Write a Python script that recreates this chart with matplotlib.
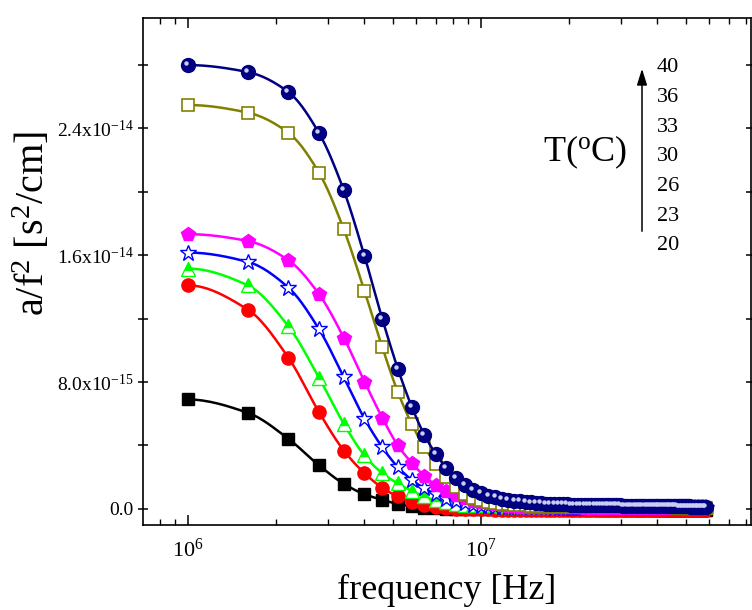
import numpy as np
import matplotlib.pyplot as plt
from matplotlib.ticker import FixedLocator, FixedFormatter, LogLocator, NullFormatter
from matplotlib.transforms import offset_copy

plt.rcParams['font.family'] = ['Liberation Serif', 'DejaVu Serif']
plt.rcParams['mathtext.fontset'] = 'custom'
plt.rcParams['mathtext.rm'] = 'Liberation Serif'
plt.rcParams['mathtext.it'] = 'Liberation Serif:italic'
plt.rcParams['mathtext.default'] = 'regular'

# frequency sweep, 1.0 MHz to 58.6 MHz in 0.6 MHz steps (97 points)
freq = np.round(np.arange(1.0, 58.7, 0.6), 1) * 1e6

temps = ["20", "23", "26", "30", "33", "36", "40"]

# a/f^2 in units of 1e-15 s^2/cm
t20 = [6.9, 6.06, 4.42, 2.74, 1.58, 0.92, 0.57, 0.3, 0.16, 0.08,
       0.04, 0.02, 0.01, 0.0, 0.0, -0.01, -0.01, -0.01, -0.02, -0.02,
       -0.02, -0.02, -0.03, -0.03] + \
      [-0.03, -0.03, -0.03, -0.03, -0.03, -0.03, -0.03, -0.03, -0.03, -0.03,
       -0.03, -0.03, -0.03, -0.03, -0.03, -0.03, -0.03, -0.03, -0.03, -0.03,
       -0.04, -0.04, -0.04, -0.04, -0.04, -0.04, -0.04, -0.04, -0.04, -0.04,
       -0.04, -0.04, -0.04, -0.04, -0.04, -0.04, -0.04, -0.04, -0.04, -0.04,
       -0.04, -0.04, -0.04, -0.04, -0.04, -0.05, -0.05, -0.05, -0.05, -0.05,
       -0.05, -0.05, -0.05, -0.05, -0.05, -0.05, -0.05, -0.05, -0.05, -0.05,
       -0.05, -0.05, -0.05, -0.05, -0.05, -0.05, -0.05, -0.05, -0.05, -0.05,
       -0.05, -0.05, -0.05]

t23 = [14.1, 12.57, 9.54, 6.1, 3.68, 2.25, 1.33, 0.78, 0.45, 0.25,
       0.13, 0.06, 0.02, 0.0, -0.02, -0.03, -0.04, -0.05, -0.05, -0.06,
       -0.06, -0.06, -0.07, -0.07] + \
      [-0.07, -0.07, -0.07, -0.07, -0.08, -0.08, -0.08, -0.08, -0.08, -0.08,
       -0.08, -0.08, -0.08, -0.08, -0.08, -0.08, -0.09, -0.09, -0.09, -0.09,
       -0.09, -0.09, -0.09, -0.09, -0.09, -0.09, -0.09, -0.09, -0.09, -0.09,
       -0.09, -0.09, -0.09, -0.09, -0.09, -0.09, -0.09, -0.09, -0.09, -0.09,
       -0.10, -0.10, -0.10, -0.10, -0.10, -0.10, -0.10, -0.10, -0.10, -0.10,
       -0.10, -0.10, -0.10, -0.10, -0.10, -0.10, -0.10, -0.10, -0.10, -0.10,
       -0.10, -0.10, -0.10, -0.10, -0.10, -0.10, -0.10, -0.10, -0.10, -0.10,
       -0.10, -0.10, -0.10]

t26 = [15.16, 14.1, 11.52, 8.27, 5.37, 3.37, 2.25, 1.6, 1.13, 0.78,
       0.54, 0.40, 0.32, 0.27, 0.24, 0.23, 0.22, 0.22, 0.21, 0.21,
       0.21, 0.21, 0.21, 0.21] + \
      [0.21, 0.21, 0.21, 0.21, 0.21, 0.21, 0.20, 0.20, 0.20, 0.20,
       0.20, 0.20, 0.20, 0.20, 0.20, 0.20, 0.20, 0.20, 0.20, 0.20,
       0.20, 0.20, 0.20, 0.20, 0.20, 0.20, 0.20, 0.20, 0.20, 0.20,
       0.20, 0.20, 0.20, 0.20, 0.20, 0.20, 0.20, 0.20, 0.20, 0.20,
       0.20, 0.20, 0.20, 0.20, 0.20, 0.20, 0.20, 0.20, 0.20, 0.20,
       0.19, 0.19, 0.19, 0.19, 0.19, 0.19, 0.19, 0.19, 0.19, 0.19,
       0.19, 0.19, 0.19, 0.19, 0.19, 0.19, 0.19, 0.19, 0.19, 0.19,
       0.19, 0.19, 0.19]

t30 = [16.17, 15.58, 13.96, 11.33, 8.31, 5.69, 3.89, 2.63, 1.83, 1.3,
       0.92, 0.65, 0.47, 0.35, 0.27, 0.21, 0.17, 0.14, 0.12, 0.11,
       0.10, 0.10, 0.09, 0.09] + \
      [0.09, 0.09, 0.09, 0.09, 0.08, 0.08, 0.08, 0.08, 0.08, 0.08,
       0.08, 0.08, 0.08, 0.07, 0.07, 0.07, 0.07, 0.07, 0.07, 0.07,
       0.07, 0.07, 0.07, 0.07, 0.07, 0.07, 0.07, 0.06, 0.06, 0.06,
       0.06, 0.06, 0.06, 0.06, 0.06, 0.06, 0.06, 0.06, 0.06, 0.06,
       0.06, 0.06, 0.06, 0.06, 0.06, 0.06, 0.06, 0.06, 0.06, 0.06,
       0.06, 0.06, 0.06, 0.06, 0.06, 0.06, 0.06, 0.06, 0.06, 0.06,
       0.06, 0.06, 0.06, 0.06, 0.06, 0.06, 0.06, 0.06, 0.06, 0.06,
       0.06, 0.06, 0.06]

t33 = [17.33, 16.9, 15.69, 13.54, 10.8, 8.03, 5.75, 4.0, 2.9, 2.08,
       1.5, 1.13, 0.85, 0.66, 0.52, 0.42, 0.34, 0.28, 0.23, 0.19,
       0.16, 0.14, 0.12, 0.11] + \
      [0.10, 0.10, 0.10, 0.10, 0.10, 0.09, 0.09, 0.09, 0.09, 0.09,
       0.09, 0.09, 0.08, 0.08, 0.08, 0.08, 0.08, 0.08, 0.08, 0.08,
       0.07, 0.07, 0.07, 0.07, 0.07, 0.07, 0.07, 0.07, 0.07, 0.07,
       0.06, 0.06, 0.06, 0.06, 0.06, 0.06, 0.06, 0.06, 0.06, 0.06,
       0.06, 0.06, 0.06, 0.06, 0.06, 0.05, 0.05, 0.05, 0.05, 0.05,
       0.05, 0.05, 0.05, 0.05, 0.05, 0.05, 0.05, 0.05, 0.05, 0.05,
       0.05, 0.05, 0.05, 0.05, 0.05, 0.05, 0.05, 0.05, 0.05, 0.05,
       0.05, 0.05, 0.05]

t36 = [25.48, 25.0, 23.73, 21.2, 17.64, 13.75, 10.2, 7.37, 5.35, 3.9,
       2.86, 2.0, 1.4, 0.95, 0.7, 0.55, 0.45, 0.38, 0.33, 0.29,
       0.26, 0.24, 0.22, 0.2] + \
      [0.19, 0.19, 0.18, 0.18, 0.18, 0.17, 0.17, 0.17, 0.16, 0.16,
       0.16, 0.16, 0.15, 0.15, 0.15, 0.15, 0.14, 0.14, 0.14, 0.14,
       0.13, 0.13, 0.13, 0.13, 0.13, 0.12, 0.12, 0.12, 0.12, 0.12,
       0.11, 0.11, 0.11, 0.11, 0.11, 0.11, 0.10, 0.10, 0.10, 0.10,
       0.10, 0.10, 0.10, 0.09, 0.09, 0.09, 0.09, 0.09, 0.09, 0.09,
       0.09, 0.09, 0.08, 0.08, 0.08, 0.08, 0.08, 0.08, 0.08, 0.08,
       0.08, 0.08, 0.08, 0.08, 0.08, 0.08, 0.08, 0.08, 0.08, 0.08,
       0.08, 0.08, 0.08]

t40 = [28.0, 27.56, 26.3, 23.7, 20.1, 15.96, 12.0, 8.84, 6.44, 4.68,
       3.47, 2.6, 1.95, 1.5, 1.2, 0.98, 0.84, 0.73, 0.65, 0.58,
       0.52, 0.47, 0.43, 0.40, 0.37, 0.35, 0.33, 0.32, 0.31, 0.30,
       0.29, 0.28, 0.27] + \
      [0.27, 0.26, 0.26, 0.26, 0.25, 0.25, 0.25, 0.24, 0.24, 0.24,
       0.23, 0.23, 0.23, 0.22, 0.22, 0.22, 0.21, 0.21, 0.21, 0.21,
       0.20, 0.20, 0.20, 0.20, 0.19, 0.19, 0.19, 0.19, 0.18, 0.18,
       0.18, 0.18, 0.18, 0.17, 0.17, 0.17, 0.17, 0.17, 0.16, 0.16,
       0.16, 0.16, 0.16, 0.16, 0.15, 0.15, 0.15, 0.15, 0.15, 0.15,
       0.15, 0.15, 0.14, 0.14, 0.14, 0.14, 0.14, 0.14, 0.14, 0.14,
       0.14, 0.14, 0.14, 0.14]

series = [t20, t23, t26, t30, t33, t36, t40]


def smooth_curve(x, y, n=16):
    # monotone cubic (pchip) through the points, in log10(f)
    lx = np.log10(x)
    y = np.asarray(y, dtype=float)
    h = np.diff(lx)
    d = np.diff(y) / h
    m = np.zeros_like(y)
    for k in range(1, len(y) - 1):
        if d[k - 1] * d[k] > 0:
            w1 = 2 * h[k] + h[k - 1]
            w2 = h[k] + 2 * h[k - 1]
            m[k] = (w1 + w2) / (w1 / d[k - 1] + w2 / d[k])
    m0 = ((2 * h[0] + h[1]) * d[0] - h[0] * d[1]) / (h[0] + h[1])
    m[0] = m0 if np.sign(m0) == np.sign(d[0]) else 0.0
    m[-1] = d[-1]
    t = np.linspace(0, 1, n, endpoint=False)
    h00 = 2 * t**3 - 3 * t**2 + 1
    h10 = t**3 - 2 * t**2 + t
    h01 = -2 * t**3 + 3 * t**2
    h11 = t**3 - t**2
    xs, ys = [], []
    for i in range(len(h)):
        xs.append(lx[i] + t * h[i])
        ys.append(h00 * y[i] + h10 * h[i] * m[i] + h01 * y[i + 1] + h11 * h[i] * m[i + 1])
    xs.append([lx[-1]])
    ys.append([y[-1]])
    return 10 ** np.concatenate(xs), np.concatenate(ys)


fig = plt.figure(figsize=(7.52, 6.10), dpi=100)
ax = fig.add_axes([143 / 752, 1 - 525 / 610, (751 - 143) / 752, (525 - 18) / 610])

styles = [
    dict(color='black', marker='s', ms=8.5),
    dict(color='#ff0000', marker='o', ms=9.5),
    dict(color='#00ff00', marker='^', ms=9.5, fillstyle='top', markerfacecoloralt='white'),
    dict(color='#0000ff', marker='*', ms=12, mfc='white', mew=1.0),
    dict(color='#ff00ff', marker='p', ms=10),
    dict(color='#808000', marker='s', ms=8.5, mfc='white', mew=1.2),
    dict(color='#000080', marker='o', ms=10),
]

for vals, st in zip(series, styles):
    y = np.array(vals) * 1e-15
    xs, ys = smooth_curve(freq, vals)
    ax.plot(xs, ys * 1e-15, '-', color=st['color'], lw=1.8)
    ax.plot(freq, y, ls='none', **st)

# light spot on the navy spheres
hl = offset_copy(ax.transData, fig=fig, x=-1.4, y=1.4, units='points')
ax.plot(freq, np.array(t40) * 1e-15, ls='none', marker='o', ms=3.2,
        color='#c9cdef', mec='none', transform=hl)

ax.set_xscale('log')
ax.set_xlim(7.02e5, 8.34e7)
ax.set_ylim(-1.02e-15, 3.097e-14)

ax.xaxis.set_major_locator(LogLocator(base=10))
ax.xaxis.set_minor_locator(LogLocator(base=10, subs=np.arange(2, 10)))
ax.xaxis.set_minor_formatter(NullFormatter())

ax.yaxis.set_major_locator(FixedLocator([0, 8e-15, 1.6e-14, 2.4e-14]))
ax.yaxis.set_major_formatter(FixedFormatter(
    ['0.0', r'8.0x10$^{-15}$', r'1.6x10$^{-14}$', r'2.4x10$^{-14}$']))
ax.yaxis.set_minor_locator(FixedLocator([4e-15, 1.2e-14, 2e-14, 2.8e-14]))

ax.tick_params(axis='x', which='both', direction='in', top=True, labelsize=16, pad=10)
ax.tick_params(axis='x', which='major', length=7, width=1.1)
ax.tick_params(axis='x', which='minor', length=4, width=1.0)
ax.tick_params(axis='y', which='both', direction='inout', right=True, length=7,
               width=1.1, labelsize=14, pad=3)

for sp in ax.spines.values():
    sp.set_linewidth(1.2)

fig.text(447 / 752, 1 - 590 / 610, 'frequency [Hz]', ha='center', va='center', fontsize=26)
fig.text(33 / 752, 1 - 223 / 610, r'a/f$^{2}$ [s$^{2}$/cm]', rotation=90,
         ha='center', va='center', fontsize=29)

# temperature key
fig.text(585 / 752, 1 - 152 / 610, r'T($^{o}$C)', ha='center', va='center', fontsize=26)
ax.annotate('', xy=(642 / 752, 1 - 66 / 610), xytext=(642 / 752, 1 - 234 / 610),
            xycoords='figure fraction', textcoords='figure fraction',
            arrowprops=dict(arrowstyle='-|>,head_length=0.7,head_width=0.22',
                            color='black', lw=1.1, mutation_scale=14))
for i, t in enumerate(temps):
    fig.text(657 / 752, 1 - (246 - i * 29.7) / 610, t, ha='left', va='center', fontsize=16)

fig.savefig('out.png', dpi=100)
